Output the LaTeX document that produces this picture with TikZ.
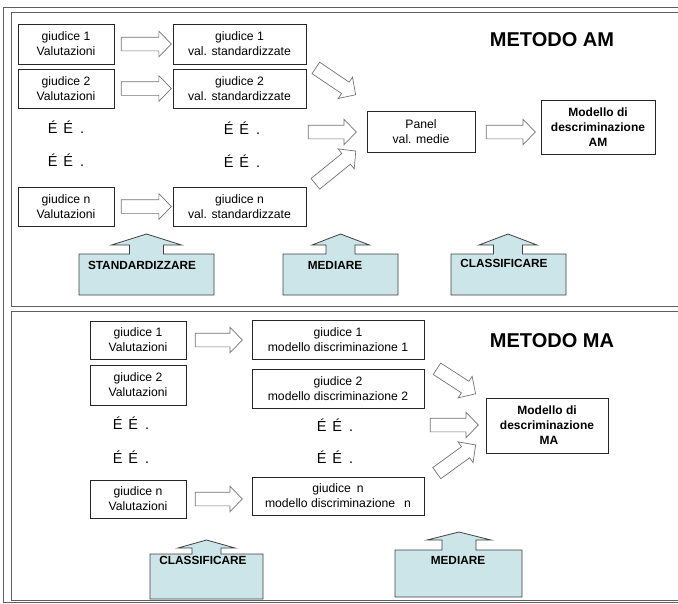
\documentclass[tikz,border=0pt]{standalone}
\usepackage{fontspec}
\setmainfont{Liberation Sans}
\usetikzlibrary{shapes.arrows}
\definecolor{calfill}{RGB}{204,229,232}
\definecolor{framecol}{RGB}{95,95,95}
\tikzset{
  box/.style={draw=black!85, line width=0.8pt, fill=white, align=center, inner sep=0pt,
    font=\fontsize{12.2}{15}\selectfont},
  boldbox/.style={box, font=\fontsize{12}{15}\selectfont\bfseries},
  barrow/.style={single arrow, draw=black!55, fill=white, line width=0.7pt,
    minimum width=25pt, single arrow head extend=6pt, single arrow tip angle=92,
    inner xsep=0pt, inner ysep=6.5pt, anchor=center},
  dots/.style={font=\fontsize{14.5}{16}\selectfont, inner sep=0pt},
  callout/.style={draw=black!75, line width=0.8pt, fill=calfill},
  callabel/.style={font=\fontsize{11.8}{14}\selectfont\bfseries, inner sep=0pt},
  title/.style={font=\fontsize{20}{24}\selectfont\bfseries, inner sep=0pt},
  framel/.style={draw=framecol, line width=1pt}
}
\newcommand{\ee}{É\hspace{6pt}É\hspace{7pt}.}
\begin{document}
\begin{tikzpicture}[x=1pt,y=-1pt]
\useasboundingbox (0,0) rectangle (678,603);
\begin{scope}
\clip (0,0) rectangle (678,603);
\draw[framel] (3,7) rectangle (700,602);
\draw[framel] (11,12) rectangle (700,306.5);
\draw[framel] (11,311.5) rectangle (700,600);
\end{scope}

% ---------- METODO AM ----------
\node[title] (tam) at (552,40) {METODO AM};

\node[box, minimum width=96pt, minimum height=40pt] (j1) at (66,44) {giudice 1\\Valutazioni};
\node[box, minimum width=96pt, minimum height=39pt] (j2) at (66,88.5) {giudice 2\\Valutazioni};
\node[box, minimum width=96pt, minimum height=39pt] (jn) at (66,206.5) {giudice n\\Valutazioni};

\node[box, minimum width=133pt, minimum height=40pt] (s1) at (239.5,44) {giudice 1\\val. standardizzate};
\node[box, minimum width=133pt, minimum height=39pt] (s2) at (239.5,88.5) {giudice 2\\val. standardizzate};
\node[box, minimum width=133pt, minimum height=39pt] (sn) at (239.5,206.5) {giudice n\\val. standardizzate};

\node[dots] (e1) at (66,127) {\ee};
\node[dots] (e2) at (66,160) {\ee};
\node[dots] (e3) at (242,128) {\ee};
\node[dots] (e4) at (242,161) {\ee};

\node[barrow, minimum height=50pt] (a1) at (143,44) {};
\node[barrow, minimum height=50pt] (a2) at (143,88.5) {};
\node[barrow, minimum height=50pt] (a3) at (143,206.5) {};

\node[box, minimum width=108pt, minimum height=41pt] (panel) at (421,131.5) {Panel\\val. medie};

\node[barrow, minimum height=48pt, rotate=-34] (d1) at (333,79.5) {};
\node[barrow, minimum height=48pt] (d2) at (329,132) {};
\node[barrow, minimum height=52pt, rotate=39] (d3) at (333,169.5) {};

\node[barrow, minimum height=49pt] (a4) at (507.5,132) {};

\node[boldbox, minimum width=114pt, minimum height=54pt] (mam) at (598,127) {Modello di\\descriminazione\\AM};

% callouts top
\draw[callout] (79,254) -- (129.5,254) -- (129.5,245) -- (111.5,245) -- (146.5,234) -- (181.5,245) -- (163.5,245) -- (163.5,254) -- (214,254) -- (214,295) -- (79,295) -- cycle;
\node[callabel] (cst) at (142,265) {STANDARDIZZARE};

\draw[callout] (283,254) -- (326,254) -- (326,245) -- (312,245) -- (340.5,234) -- (369.5,245) -- (355,245) -- (355,254) -- (398,254) -- (398,295) -- (283,295) -- cycle;
\node[callabel] (cme) at (335,265) {MEDIARE};

\draw[callout] (451,254) -- (493.5,254) -- (493.5,245) -- (479,245) -- (508,234) -- (537,245) -- (522.5,245) -- (522.5,254) -- (566,254) -- (566,295) -- (451,295) -- cycle;
\node[callabel] (ccl) at (504,263.5) {CLASSIFICARE};

% ---------- METODO MA ----------
\node[title] (tma) at (552,341) {METODO MA};

\node[box, minimum width=96pt, minimum height=38pt] (b1) at (138,340) {giudice 1\\Valutazioni};
\node[box, minimum width=96pt, minimum height=40pt] (b2) at (138,385) {giudice 2\\Valutazioni};
\node[box, minimum width=96pt, minimum height=38pt] (bn) at (138,499) {giudice n\\Valutazioni};

\node[dots] (f1) at (131,423) {\ee};
\node[dots] (f2) at (131,457) {\ee};

\node[barrow, minimum height=47pt] (c1) at (215.5,340) {};
\node[barrow, minimum height=47pt] (c2) at (215.5,499) {};

\node[box, minimum width=172pt, minimum height=39pt] (m1) at (338,339.5) {giudice 1\\modello discriminazione 1};
\node[box, minimum width=172pt, minimum height=39pt] (m2) at (338,388.5) {giudice 2\\modello discriminazione 2};
\node[box, minimum width=172pt, minimum height=38pt] (mn) at (338,496) {giudice\hspace{6pt}n\\modello discriminazione\hspace{9pt}n};

\node[dots] (f3) at (335,425) {\ee};
\node[dots] (f4) at (335,457) {\ee};

\node[barrow, minimum height=46pt, rotate=-33] (g1) at (453.5,379.5) {};
\node[barrow, minimum height=48pt] (g2) at (451,425) {};
\node[barrow, minimum height=48pt, rotate=36] (g3) at (453.5,461) {};

\node[boldbox, minimum width=122pt, minimum height=55pt] (mma) at (547,425.5) {Modello di\\descriminazione\\\hspace{4pt}MA};

% callouts bottom
\draw[callout] (150,554) -- (192,554) -- (192,548) -- (178,548) -- (206.5,540) -- (235,548) -- (221,548) -- (221,554) -- (263,554) -- (263,599) -- (150,599) -- cycle;
\node[callabel] (ccl2) at (203,560.5) {CLASSIFICARE};

\draw[callout] (395,550) -- (442,550) -- (442,540) -- (427,540) -- (459,532) -- (491,540) -- (476,540) -- (476,550) -- (522,550) -- (522,597) -- (395,597) -- cycle;
\node[callabel] (cme2) at (458,560.5) {MEDIARE};
\end{tikzpicture}
\end{document}
